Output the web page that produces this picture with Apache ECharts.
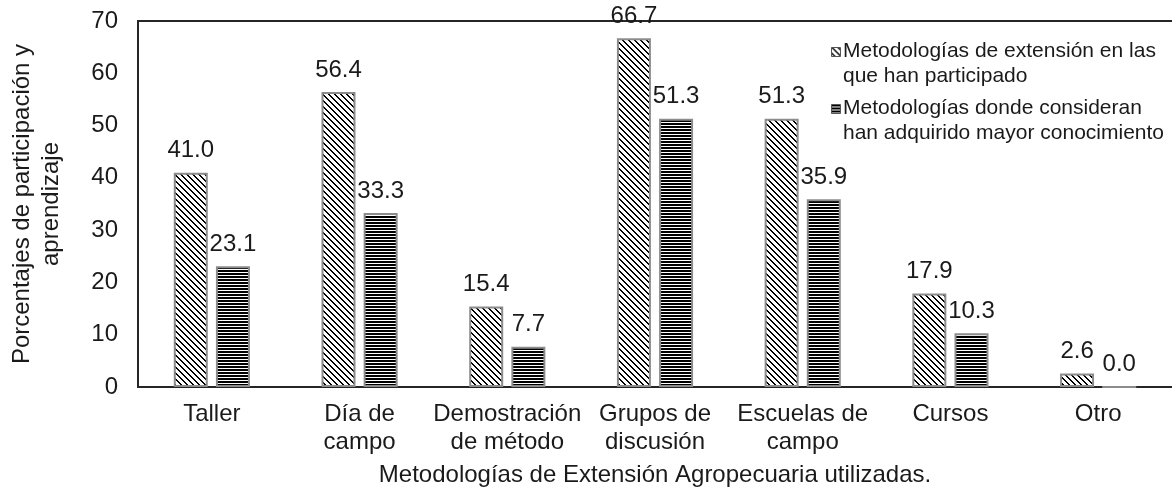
<!DOCTYPE html>
<html>
<head>
<meta charset="utf-8">
<script src="https://cdn.jsdelivr.net/npm/echarts@6/dist/echarts.min.js"></script>
<style>
  html, body { margin: 0; padding: 0; background: #fff; }
  #main { width: 1172px; height: 494px; }
</style>
</head>
<body>
<div id="main"></div>
<script>
// categories and values
const categories = ['Taller', 'Día de\ncampo', 'Demostración\nde método', 'Grupos de\ndiscusión', 'Escuelas de\ncampo', 'Cursos', 'Otro'];
const participado = [41.0, 56.4, 15.4, 66.7, 51.3, 17.9, 2.6];
const conocimiento = [23.1, 33.3, 7.7, 51.3, 35.9, 10.3, 0.0];
const seriesNames = ['Metodologías de extensión en las que han participado', 'Metodologías donde consideran han adquirido mayor conocimiento'];
const legendLines = [['Metodologías de extensión en las', 'que han participado'], ['Metodologías donde consideran', 'han adquirido mayor conocimiento']];

const FONT = '"Liberation Sans", Arial, sans-serif';
const TXT = '#1a1a1a';

// hatch patterns
function diagPattern() {
  const c = document.createElement('canvas');
  c.width = 6; c.height = 6;
  const ctx = c.getContext('2d');
  ctx.fillStyle = '#fff';
  ctx.fillRect(0, 0, 6, 6);
  ctx.fillStyle = '#000';
  for (let i = 0; i < 6; i++) {
    ctx.fillRect(i, i, 1, 1);
    ctx.fillRect((i + 1) % 6, i, 1, 1);
  }
  return c;
}
function stripePattern() {
  const c = document.createElement('canvas');
  c.width = 4; c.height = 3;
  const ctx = c.getContext('2d');
  ctx.fillStyle = '#fff';
  ctx.fillRect(0, 0, 4, 3);
  ctx.fillStyle = '#000';
  ctx.fillRect(0, 0, 4, 2);
  return c;
}
const fillA = { image: diagPattern(), repeat: 'repeat' };
const fillB = { image: stripePattern(), repeat: 'repeat' };

const labelStyle = {
  show: true,
  position: 'top',
  distance: 10,
  fontFamily: FONT,
  fontSize: 24,
  color: TXT,
  formatter: p => p.value.toFixed(1)
};

const chart = echarts.init(document.getElementById('main'));
chart.setOption({
  animation: false,
  backgroundColor: '#fff',
  grid: { left: 133, right: -2, top: 21, bottom: 107 },
  xAxis: [{
    type: 'category',
    data: categories,
    axisLine: { lineStyle: { color: '#262626', width: 2 } },
    axisTick: { show: false },
    axisLabel: { fontFamily: FONT, fontSize: 24, color: TXT, margin: 13, lineHeight: 28, interval: 0 },
    name: 'Metodologías de Extensión Agropecuaria utilizadas.',
    nameLocation: 'middle',
    nameGap: 76,
    nameTextStyle: { fontFamily: FONT, fontSize: 24, color: TXT }
  }, {
    // top frame line
    type: 'category',
    position: 'top',
    data: categories,
    axisLine: { show: true, lineStyle: { color: '#262626', width: 2 } },
    axisTick: { show: false },
    axisLabel: { show: false }
  }],
  yAxis: {
    type: 'value',
    min: 0, max: 70, interval: 10,
    splitLine: { show: false },
    axisLine: { show: true, lineStyle: { color: '#262626', width: 2 } },
    axisTick: { show: false },
    axisLabel: { fontFamily: FONT, fontSize: 24, color: TXT, margin: 20 },
    name: 'Porcentajes de participación y\naprendizaje',
    nameLocation: 'middle',
    nameRotate: 90,
    nameGap: 72,
    nameTextStyle: { fontFamily: FONT, fontSize: 24, color: TXT, lineHeight: 29 }
  },
  series: [
    {
      name: seriesNames[0], type: 'bar', data: participado,
      barWidth: 34, barGap: '24%',
      itemStyle: { color: fillA, borderColor: '#8c8c8c', borderWidth: 2 },
      label: labelStyle
    },
    {
      name: seriesNames[1], type: 'bar', data: conocimiento,
      barWidth: 34,
      itemStyle: { color: fillB, borderColor: '#8c8c8c', borderWidth: 2 },
      label: labelStyle
    }
  ],
  graphic: [
    { type: 'rect', left: 831, top: 47, shape: { width: 9, height: 9 }, style: { fill: fillA, stroke: '#555', lineWidth: 1 } },
    { type: 'text', left: 843, top: 39, style: { text: legendLines[0].join('\n'), font: '21px ' + FONT, fill: TXT, lineHeight: 25 } },
    { type: 'rect', left: 831, top: 104, shape: { width: 9, height: 9 }, style: { fill: fillB, stroke: '#555', lineWidth: 1 } },
    { type: 'text', left: 843, top: 96, style: { text: legendLines[1].join('\n'), font: '21px ' + FONT, fill: TXT, lineHeight: 25 } }
  ]
});
</script>
</body>
</html>
